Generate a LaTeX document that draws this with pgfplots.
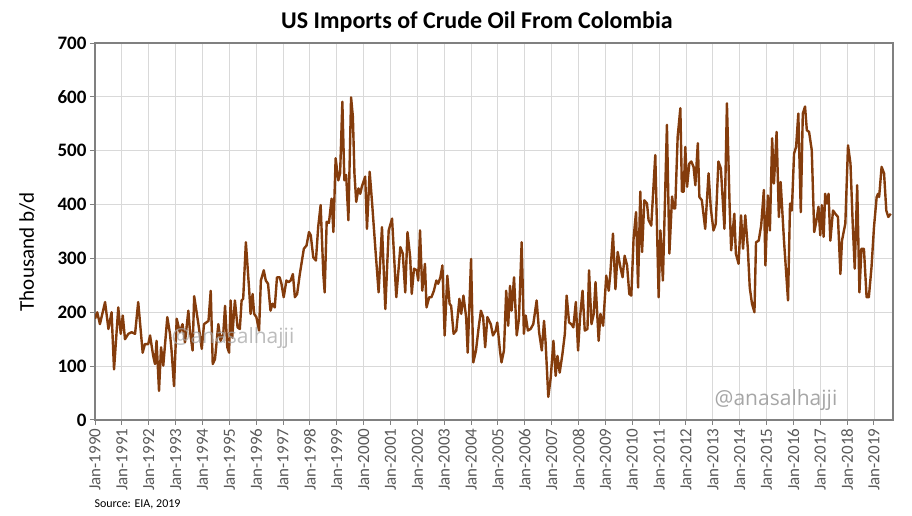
\documentclass[border=0pt]{standalone}
\usepackage{fontspec}
\setmainfont{Carlito}
\newfontfamily\wmfont{Open Sans}
\usepackage{pgfplots}
\pgfplotsset{compat=1.18}

\definecolor{oilBrown}{HTML}{843C0C}
\definecolor{gridGrey}{HTML}{D9D9D9}
\definecolor{axisGrey}{HTML}{808080}
\definecolor{labelGrey}{HTML}{595959}
\definecolor{wmGrey}{HTML}{A6A6A6}

\begin{document}
\begin{tikzpicture}
\begin{axis}[
  name=ax,
  scale only axis,
  width=798pt, height=377pt,
  xmin=0, xmax=356.5,
  ymin=0, ymax=700,
  ytick={0,100,...,700},
  xtick={0,12,...,348},
  xticklabels={Jan-1990,Jan-1991,Jan-1992,Jan-1993,Jan-1994,Jan-1995,Jan-1996,Jan-1997,Jan-1998,Jan-1999,Jan-2000,Jan-2001,Jan-2002,Jan-2003,Jan-2004,Jan-2005,Jan-2006,Jan-2007,Jan-2008,Jan-2009,Jan-2010,Jan-2011,Jan-2012,Jan-2013,Jan-2014,Jan-2015,Jan-2016,Jan-2017,Jan-2018,Jan-2019},
  /pgf/number format/assume math mode=true,
  x tick label style={rotate=90, anchor=east, font=\fontsize{17}{17}\selectfont, text=labelGrey},
  y tick label style={font=\fontsize{19}{19}\selectfont\bfseries, text=black},
  grid=major,
  major grid style={draw=gridGrey, line width=0.9pt},
  axis line style={draw=axisGrey, line width=1.2pt},
  tick style={draw=axisGrey, line width=1pt},
  tick align=outside,
  major tick length=5pt,
  xtick pos=left, ytick pos=left,
]
\addplot[color=oilBrown, line width=2.4pt, line join=round] coordinates {
(0,188) (1,200) (2.2,178) (4.5,219) (6,169) (7.4,200) (8.5,94) (10.4,209) (11.5,160) (12.4,194)
(13.4,150) (14.9,160) (16.4,163) (17.9,160) (19.3,219) (21.3,125) (22.3,141) (23.8,141) (24.6,157) (26,119)
(26.8,104) (27.5,147) (28.6,54) (29.5,135) (30.5,101) (32.3,191) (33.5,160) (34.2,129) (35.3,63) (36.5,188)
(37.9,163) (39.1,178) (40.2,144) (41.7,203) (42.4,166) (43.6,129)
(44.3,230) (46.2,178) (47.7,132) (48.7,178) (50.7,184) (51.7,240) (52.6,104) (53.6,113) (55.1,178) (56.1,147)
(57.3,160) (58.1,212) (59.1,135) (59.9,125) (60.6,222) (61.3,153) (62.5,222) (63.7,172) (64.7,169) (65.5,222)
(66.2,225) (67.4,330) (68.9,240) (69.5,197) (70.4,234) (71.1,197) (72.1,191) (73.3,166) (74.1,259) (75.4,278)
(76.3,259) (77.3,253) (78.4,203) (79.3,216) (80.3,209) (81.3,265) (82.5,265) (83.3,253) (84.3,228) (85.5,259)
(86.5,256) (87.4,259) (88.4,271)
(89.3,228) (90.3,234) (91.5,271) (93.3,318) (94.5,324) (95.6,349) (96.4,343) (97.5,302) (98.7,296) (99.7,358)
(100.8,399) (102,271) (102.6,237) (103.5,368) (104.5,366) (105.7,411) (106.5,349) (107.5,486) (108.7,445) (109.5,458)
(110.5,591) (111.4,445) (112.2,455) (113.2,371) (114.4,599) (115.2,563) (115.9,458) (116.7,405) (117.7,430) (118.5,420)
(119.2,433) (120.7,452) (121.5,355) (122.7,461) (123.7,408) (125.2,321) (126.7,237) (128.2,358) (129.7,206) (131.2,352)
(132.7,374)
(134.6,228) (136.4,321) (137.5,309) (138.6,237) (139.6,349) (140.8,302) (141.5,234) (142.5,281) (143.7,278) (144.4,259)
(145.2,352) (146.2,240) (147.4,290) (148.1,209) (149.3,228) (150.3,228) (151.4,240) (152.5,259) (153.3,253) (154.3,265)
(155.2,287) (156.2,157) (157.4,268) (158.4,216) (159.1,212) (160.2,160) (161.4,166) (162.8,225) (163.6,197) (164.6,231)
(165.8,191) (166.5,125) (168,299) (169,107) (170.2,129) (171.4,172) (172.4,203) (173.4,191) (174.3,135) (175.3,191)
(176.8,178) (177.8,157)
(179,166) (179.7,181) (180.9,129) (181.6,107) (182.7,129) (183.7,240) (184.6,175) (185.4,249) (186.1,203) (187.2,265)
(188.4,157) (189.4,188) (190.6,330) (191.6,160) (192.4,194) (193.4,166) (194.6,169) (195.8,178) (197.3,222) (198.4,163)
(199.6,129) (200.6,184) (201.3,144) (202.5,43) (203.6,79) (204.8,147) (205.8,82) (206.6,119) (207.6,88) (208.8,122)
(209.9,160) (210.7,231) (211.8,181) (212.8,178) (213.7,172) (214.8,219) (215.8,129) (216.7,191) (217.8,240) (218.8,166)
(220,169) (220.7,278) (221.8,178) (222.8,197)
(223.6,256) (225,147) (225.8,197) (227,175) (228.4,268) (229.5,240) (230.2,271) (231.4,346) (232.5,243) (233.5,312)
(234.7,284) (235.7,265) (236.6,305) (237.7,287) (238.7,234) (239.6,231) (240.6,337) (241.7,386) (242.6,246) (243.6,424)
(244.4,312) (245.4,408) (246.6,402) (247.3,371) (248.5,361) (250.3,492) (251.8,228) (252.6,352) (253.7,259) (255.5,548)
(256.6,309) (257.8,415) (258.5,393) (259.2,393) (260.3,526) (261.5,579) (262.2,424) (263,424) (263.7,507) (264.5,433)
(265.5,476) (266.4,480) (267.4,470) (268.2,436)
(269.3,514) (270,414) (271.1,408) (272.6,355) (274.1,458) (275.1,393) (276.3,352) (277.3,364) (278.5,480) (279.6,467)
(281.2,355) (282.3,588) (283.5,399) (284.2,315) (285.6,383) (286.3,309) (287.5,290) (288.6,380) (289.5,318) (290.5,380)
(291.6,321) (292.5,246) (293.5,216) (294.6,200) (295.3,330) (296.5,333) (297.6,361) (298.8,427) (299.5,287) (300.6,417)
(301.5,352) (302.5,523) (303.3,439) (304.5,535) (305.5,377) (306.3,442) (307.8,333) (309.6,222)
(310.5,402) (311.3,389) (312.3,495) (313.2,507) (314.2,569) (315.3,386) (316.2,569) (317.2,582) (318,538) (319,535)
(320.2,501) (321.3,349) (322.2,368) (323.2,396) (324,343) (324.7,399) (325.5,340) (326.2,420) (327,402) (327.7,420)
(328.5,333) (329.7,389) (330.7,383) (331.9,377) (333,271) (333.7,333) (335.2,365) (336.4,510) (337.5,476) (338.5,364)
(339.4,281) (340.5,436) (341.5,237) (342.4,318) (343.5,318) (344.7,228) (345.7,228) (346.9,284) (348,358) (349.2,414)
(349.8,420) (350.3,414) (351.4,470) (352.5,458) (353.5,389) (354.4,377) (355.5,383)
};
\end{axis}
% title, y label, watermarks and source note
\node[font=\fontsize{24}{28}\selectfont\bfseries] at ([shift={(382pt,398pt)}]ax.south west) {US Imports of Crude Oil From Colombia};
\node[font=\fontsize{21}{24}\selectfont, rotate=90] at ([shift={(-68pt,168pt)}]ax.south west) {Thousand b/d};
\node[font=\wmfont\fontsize{21}{24}\selectfont, text=wmGrey, opacity=0.75] at ([shift={(138pt,82pt)}]ax.south west) {@anasalhajji};
\node[font=\wmfont\fontsize{21}{24}\selectfont, text=wmGrey] at ([shift={(681pt,20pt)}]ax.south west) {@anasalhajji};
\node[font=\fontsize{12}{14}\selectfont, anchor=west] at ([shift={(-4pt,-84pt)}]ax.south west) {Source: EIA, 2019};
\pgfresetboundingbox
\path (ax.south west) ++(-95pt,-96pt) rectangle ++(912pt,516pt);
\end{tikzpicture}
\end{document}
